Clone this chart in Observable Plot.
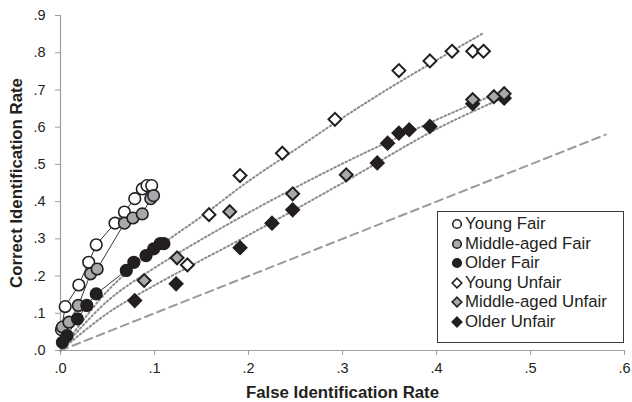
<!DOCTYPE html>
<html>
<head>
<meta charset="utf-8">
<script src="https://cdn.jsdelivr.net/npm/d3@7"></script>
<script src="https://cdn.jsdelivr.net/npm/@observablehq/plot@0.6"></script>
<style>
  html, body { margin: 0; padding: 0; background: #fff; }
  #wrap { position: relative; width: 632px; height: 402px; font-family: "Liberation Sans", Arial, sans-serif; color: #231f20; }
  #legend { position: absolute; left: 437px; top: 211px; width: 187px; height: 132px; border: 1px solid #3a3a3a; background: #fff; box-sizing: border-box; padding: 2.5px 0 0 13px; }
  #legend .item { display: flex; align-items: center; height: 19.5px; font-size: 16.8px; white-space: nowrap; }
  #legend svg { margin-right: 2px; }
</style>
</head>
<body>
<div id="wrap"><div id="legend"></div></div>
<script>
// ---- data ----
const xTicks = [0, 0.1, 0.2, 0.3, 0.4, 0.5, 0.6];
const yTicks = [0, 0.1, 0.2, 0.3, 0.4, 0.5, 0.6, 0.7, 0.8, 0.9];
const seriesNames = ["Young Fair", "Middle-aged Fair", "Older Fair", "Young Unfair", "Middle-aged Unfair", "Older Unfair"];

const youngFairX = [0.001, 0.005, 0.0195, 0.030, 0.038, 0.058, 0.068, 0.079, 0.087, 0.092, 0.097];
const youngFairY = [0.056, 0.118, 0.176, 0.237, 0.284, 0.342, 0.372, 0.408, 0.434, 0.443, 0.443];
const middleFairX = [0.002, 0.009, 0.019, 0.032, 0.039, 0.068, 0.077, 0.087, 0.096, 0.099];
const middleFairY = [0.063, 0.076, 0.121, 0.206, 0.219, 0.342, 0.356, 0.367, 0.408, 0.416];
const olderFairX = [0.002, 0.007, 0.018, 0.028, 0.038, 0.070, 0.078, 0.091, 0.099, 0.106, 0.110];
const olderFairY = [0.022, 0.040, 0.085, 0.121, 0.152, 0.215, 0.237, 0.255, 0.273, 0.287, 0.287];

const youngUnfairX = [0.135, 0.158, 0.191, 0.236, 0.292, 0.360, 0.393, 0.4165, 0.4385, 0.450];
const youngUnfairY = [0.230, 0.365, 0.470, 0.530, 0.621, 0.752, 0.778, 0.804, 0.804, 0.804];
const middleUnfairX = [0.089, 0.124, 0.180, 0.247, 0.304, 0.4385, 0.461, 0.472];
const middleUnfairY = [0.188, 0.249, 0.373, 0.421, 0.472, 0.674, 0.682, 0.690];
const olderUnfairX = [0.079, 0.123, 0.191, 0.225, 0.247, 0.337, 0.348, 0.360, 0.371, 0.393, 0.4385, 0.472];
const olderUnfairY = [0.134, 0.179, 0.276, 0.342, 0.378, 0.504, 0.557, 0.584, 0.593, 0.602, 0.663, 0.678];

// dotted trend curves (vertices)
const youngTrendX = [0, 0.05, 0.1, 0.15, 0.2, 0.25, 0.3, 0.35, 0.4, 0.45];
const youngTrendY = [0, 0.16, 0.27, 0.36, 0.455, 0.54, 0.625, 0.705, 0.78, 0.853];
const middleTrendX = [0, 0.05, 0.1, 0.2, 0.3, 0.4, 0.472];
const middleTrendY = [0, 0.133, 0.222, 0.370, 0.502, 0.620, 0.699];
const olderTrendX = [0, 0.05, 0.1, 0.2, 0.3, 0.4, 0.472];
const olderTrendY = [0, 0.100, 0.175, 0.310, 0.450, 0.595, 0.680];
// chance line
const chanceX = [0, 0.58];
const chanceY = [0, 0.58];

// ---- build tables ----
const zip = (xs, ys) => xs.map((x, i) => ({x, y: ys[i]}));
const youngFair = zip(youngFairX, youngFairY);
const middleFair = zip(middleFairX, middleFairY);
const olderFair = zip(olderFairX, olderFairY);
const youngUnfair = zip(youngUnfairX, youngUnfairY);
const middleUnfair = zip(middleUnfairX, middleUnfairY);
const olderUnfair = zip(olderUnfairX, olderUnfairY);
const youngTrend = zip(youngTrendX, youngTrendY);
const middleTrend = zip(middleTrendX, middleTrendY);
const olderTrend = zip(olderTrendX, olderTrendY);
const chance = zip(chanceX, chanceY);

const fmt = d => d3.format(".1f")(d).replace(/^0/, "");
const ink = "#231f20";
const grayFill = "#a7a9ac";
const axisGray = "#a0a0a0";
const circleR = 5.8;
const diamondR = 5.8;

const dotted = {x: "x", y: "y", stroke: "#8c8c8c", strokeWidth: 2, strokeDasharray: "1.6,2.6", curve: "catmull-rom"};

const chart = Plot.plot({
  width: 632,
  height: 402,
  marginLeft: 60,
  marginRight: 8,
  marginTop: 15,
  marginBottom: 52,
  style: {fontFamily: '"Liberation Sans", Arial, sans-serif', fontSize: "14px", color: ink, background: "transparent", overflow: "visible"},
  x: {domain: [0, 0.6]},
  y: {domain: [0, 0.9]},
  marks: [
    Plot.axisX({ticks: xTicks, tickFormat: fmt, tickSize: 5, tickPadding: 7, stroke: axisGray, label: null, fontSize: 14.5}),
    Plot.axisY({ticks: yTicks, tickFormat: fmt, tickSize: 5, tickPadding: 10, stroke: axisGray, label: null, fontSize: 14.5}),
    Plot.ruleY([0], {stroke: axisGray, strokeWidth: 1.2}),
    Plot.ruleX([0], {stroke: axisGray, strokeWidth: 1.2}),
    Plot.line(chance, {x: "x", y: "y", stroke: "#9a9a9a", strokeWidth: 2, strokeDasharray: "8,5"}),
    Plot.line(youngTrend, dotted),
    Plot.line(middleTrend, dotted),
    Plot.line(olderTrend, dotted),
    Plot.line(youngFair, {x: "x", y: "y", stroke: ink, strokeWidth: 0.9}),
    Plot.line(middleFair, {x: "x", y: "y", stroke: ink, strokeWidth: 0.9}),
    Plot.line(olderFair, {x: "x", y: "y", stroke: ink, strokeWidth: 0.9}),
    Plot.dot(youngFair, {x: "x", y: "y", r: circleR, fill: "white", stroke: ink, strokeWidth: 1.6}),
    Plot.dot(middleFair, {x: "x", y: "y", r: circleR, fill: grayFill, stroke: ink, strokeWidth: 1.6}),
    Plot.dot(olderFair, {x: "x", y: "y", r: circleR, fill: ink, stroke: ink, strokeWidth: 1.6}),
    Plot.dot(youngUnfair, {x: "x", y: "y", r: diamondR, symbol: "diamond2", fill: "white", stroke: ink, strokeWidth: 2}),
    Plot.dot(olderUnfair, {x: "x", y: "y", r: diamondR, symbol: "diamond2", fill: ink, stroke: ink, strokeWidth: 2}),
    Plot.dot(middleUnfair, {x: "x", y: "y", r: diamondR, symbol: "diamond2", fill: grayFill, stroke: ink, strokeWidth: 2}),
    Plot.text(["False Identification Rate"], {frameAnchor: "bottom", textAnchor: "middle", lineAnchor: "middle", dy: 42, fontWeight: "bold", fontSize: 16.8, fill: ink}),
    Plot.text(["Correct Identification Rate"], {frameAnchor: "left", textAnchor: "middle", lineAnchor: "middle", dx: -44, rotate: -90, fontWeight: "bold", fontSize: 16.8, fill: ink})
  ]
});
document.getElementById("wrap").prepend(chart);

// ---- legend ----
const legendStyles = [
  {shape: "circle", fill: "white"},
  {shape: "circle", fill: grayFill},
  {shape: "circle", fill: ink},
  {shape: "diamond", fill: "white"},
  {shape: "diamond", fill: grayFill},
  {shape: "diamond", fill: ink}
];
const legend = d3.select("#legend");
seriesNames.forEach((name, i) => {
  const item = legend.append("div").attr("class", "item");
  const s = item.append("svg").attr("width", 12).attr("height", 12);
  const st = legendStyles[i];
  if (st.shape === "circle") {
    s.append("circle").attr("cx", 6).attr("cy", 6).attr("r", 4.3).attr("fill", st.fill).attr("stroke", ink).attr("stroke-width", 1.6);
  } else {
    s.append("path").attr("d", "M6,1.2L10.8,6L6,10.8L1.2,6Z").attr("fill", st.fill).attr("stroke", ink).attr("stroke-width", 1.6);
  }
  item.append("span").text(name);
});
</script>
</body>
</html>
